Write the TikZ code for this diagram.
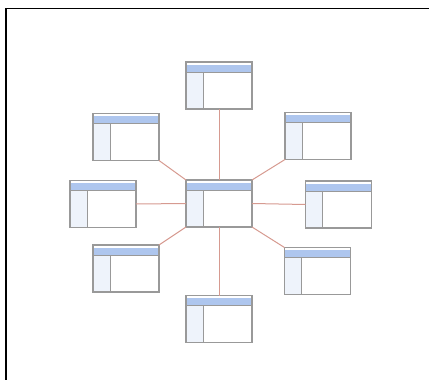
\documentclass[tikz,border=0pt]{standalone}
\usetikzlibrary{calc}
\definecolor{hdr}{HTML}{AEC6EE}
\definecolor{colf}{HTML}{EEF3FB}
\definecolor{bord}{HTML}{999999}
\definecolor{conn}{HTML}{D69A90}
\tikzset{
  tbl/.style={draw=bord, line width=1.1pt, fill=white, minimum width=66pt, minimum height=47pt,
    inner sep=0pt, outer sep=0pt,
    path picture={
      \fill[hdr] ($(path picture bounding box.north west)+(0,-2.5pt)$) rectangle ($(path picture bounding box.north east)+(0,-9.5pt)$);
      \fill[colf] ($(path picture bounding box.north west)+(0,-10pt)$) rectangle ($(path picture bounding box.south west)+(17pt,0)$);
      \draw[bord, line width=0.9pt] ($(path picture bounding box.north west)+(0,-10pt)$) -- ($(path picture bounding box.north east)+(0,-10pt)$);
      \draw[bord, line width=1pt] ($(path picture bounding box.north west)+(17pt,-10pt)$) -- ($(path picture bounding box.south west)+(17pt,0)$);
    }},
  link/.style={draw=conn, line width=1pt}
}
\begin{document}
\begin{tikzpicture}[x=1pt,y=-1pt]
\useasboundingbox (0,0) rectangle (429,380);
\draw[line width=1.2pt] (6,440) -- (6,8.5) -- (480,8.5);
\node[tbl] (c)  at (219,203.5) {};
\node[tbl] (t)  at (219,85.5) {};
\node[tbl] (b)  at (219,319) {};
\node[tbl] (l)  at (103,204) {};
\node[tbl] (r)  at (338.5,204.5) {};
\node[tbl] (ul) at (126,137) {};
\node[tbl] (ur) at (318,136) {};
\node[tbl] (ll) at (126,268.5) {};
\node[tbl] (lr) at (317.5,271) {};
\path[link] (c.north) -- (t.south);
\path[link] (c.south) -- (b.north);
\path[link] (c.west) -- (l.east);
\path[link] (c.east) -- (r.west);
\path[link] (c.north west) -- (ul.south east);
\path[link] (c.north east) -- (ur.south west);
\path[link] (c.south west) -- (ll.north east);
\path[link] (c.south east) -- (lr.north west);
\end{tikzpicture}
\end{document}
